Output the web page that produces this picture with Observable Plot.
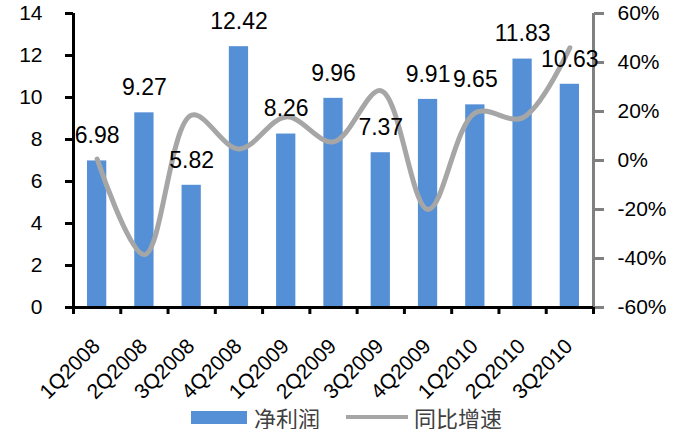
<!DOCTYPE html>
<html>
<head>
<meta charset="utf-8">
<script src="https://cdn.jsdelivr.net/npm/d3@7"></script>
<script src="https://cdn.jsdelivr.net/npm/@observablehq/plot@0.6"></script>
<style>
  body { margin: 0; background: #fff; }
  #chart svg { display: block; }
  .legend { display: flex; align-items: center; height: 24px; padding-left: 191px;
    font-family: "Noto Sans CJK SC", sans-serif; font-size: 22px; line-height: 24px; color: #404040; }
  .legend span { white-space: nowrap; }
  .sw { width: 56px; height: 13px; background: #5590d6; margin-right: 7px; flex: none; }
  .ln { width: 62px; height: 4px; background: #a6a6a6; margin-left: 26px; margin-right: 6px; flex: none; }
</style>
</head>
<body>
<div id="chart"></div>
<script>
const categories = ["1Q2008","2Q2008","3Q2008","4Q2008","1Q2009","2Q2009","3Q2009","4Q2009","1Q2010","2Q2010","3Q2010"];
const netProfit = [6.98, 9.27, 5.82, 12.42, 8.26, 9.96, 7.37, 9.91, 9.65, 11.83, 10.63];
const yoyGrowth = [0.6, -38.5, 18.5, 4.7, 17.8, 7.6, 28.5, -20, 19.5, 17.4, 46];
const leftTicks = [0, 2, 4, 6, 8, 10, 12, 14];
const rightTicks = [-60, -40, -20, 0, 20, 40, 60];
const seriesNames = ["净利润", "同比增速"];

const gToY = g => (g + 60) / 120 * 14;

const data = categories.map((c, i) => ({c, i, v: netProfit[i], g: yoyGrowth[i]}));

const plot = Plot.plot({
  width: 689,
  height: 405,
  marginLeft: 73,
  marginRight: 96,
  marginTop: 13,
  marginBottom: 98,
  style: {fontFamily: "'Liberation Sans', Arial, sans-serif", fontSize: "21px", color: "black", background: "white"},
  x: {type: "linear", domain: [0, categories.length], axis: null},
  y: {domain: [0, 14], axis: null},
  marks: [
    Plot.rectY(data, {x1: d => d.i, x2: d => d.i + 1, y: "v", insetLeft: 14, insetRight: 14, fill: "#5590d6"}),
    Plot.axisY({anchor: "left", label: null, ticks: leftTicks, tickSize: 8, tickPadding: 23, strokeWidth: 3, fontSize: 21}),
    Plot.axisY({anchor: "right", label: null, ticks: rightTicks.map(gToY), tickSize: 10, tickPadding: 14,
      stroke: "#808080", fill: "black", strokeWidth: 3, fontSize: 21,
      tickFormat: d => Math.round(d / 14 * 120 - 60) + "%"}),
    Plot.axisX({label: null, ticks: d3.range(categories.length + 1), tickSize: 7, strokeWidth: 3, tickFormat: () => ""}),
    Plot.ruleX([categories.length], {stroke: "#808080", strokeWidth: 3}),
    Plot.ruleX([0], {stroke: "black", strokeWidth: 3}),
    Plot.ruleY([0], {stroke: "black", strokeWidth: 3}),
    Plot.line(data, {x: d => d.i + 0.5, y: d => gToY(d.g), curve: "catmull-rom", stroke: "#a6a6a6", strokeWidth: 5}),
    Plot.text(data, {x: d => d.i + 0.5, y: () => 0, text: "c", rotate: -45, textAnchor: "end", lineAnchor: "bottom", dx: 4, dy: 40, fontSize: 21, fill: "black"}),
    Plot.text(data, {x: d => d.i + 0.5, y: "v", text: d => d.v.toFixed(2), dy: -25, fontSize: 23, fill: "black"})
  ]
});
document.getElementById("chart").appendChild(plot);

const legend = document.createElement("div");
legend.className = "legend";
legend.innerHTML = `<div class="sw"></div><span>${seriesNames[0]}</span><div class="ln"></div><span>${seriesNames[1]}</span>`;
document.getElementById("chart").appendChild(legend);
</script>
</body>
</html>
